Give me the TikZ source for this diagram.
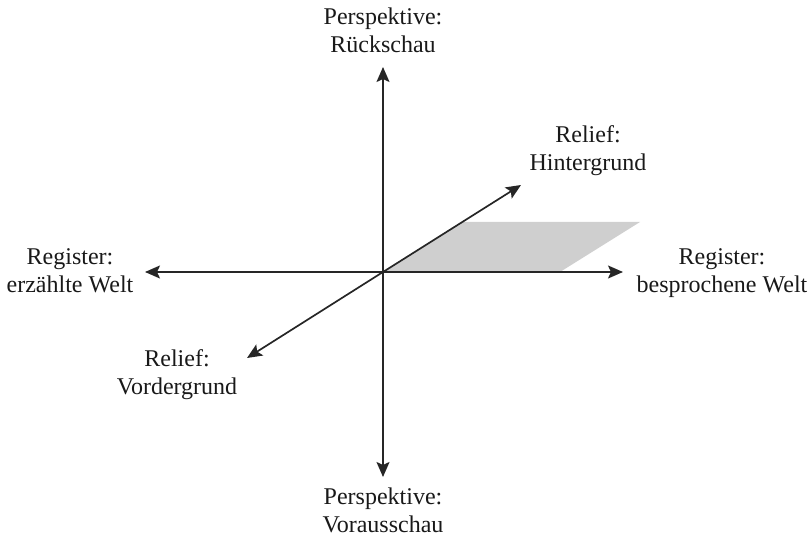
\documentclass[tikz,border=0pt]{standalone}
\usepackage{fontspec}
\setmainfont{Liberation Serif}
\usetikzlibrary{arrows.meta}
\begin{document}
\begin{tikzpicture}[x=1pt,y=-1pt,
  axis/.style={line width=1.7pt, draw=black!85, -{Stealth[length=15pt,width=13pt,inset=3pt]}},
  lbl/.style={align=center, inner sep=0pt, anchor=base, font=\fontsize{24}{28}\selectfont, text=black!90}]
\useasboundingbox (0,0) rectangle (812,537);
\coordinate (O) at (383,272);
\coordinate (T) at (383,67);
\coordinate (B) at (383,477);
\coordinate (L) at (145,272);
\coordinate (R) at (623,272);
\coordinate (UR) at (521,185);
\coordinate (LL) at (247,358);
\coordinate (P1) at (560,272);
\coordinate (P2) at (640,222);
\coordinate (P3) at (462,222);
\fill[black!19] (O) -- (P1) -- (P2) -- (P3) -- cycle;
\draw[axis] (O) -- (T);
\draw[axis] (O) -- (B);
\draw[axis] (O) -- (L);
\draw[axis] (O) -- (R);
\draw[axis] (O) -- (UR);
\draw[axis] (O) -- (LL);
\node[lbl] (top) at (383,53) {Perspektive:\\Rückschau};
\node[lbl] (bot) at (383,532) {Perspektive:\\Vorausschau};
\node[lbl] (lft) at (70,293) {Register:\\erzählte Welt};
\node[lbl] (rgt) at (722,293) {Register:\\besprochene Welt};
\node[lbl] (hin) at (588,171) {Relief:\\Hintergrund};
\node[lbl] (vor) at (177,395) {Relief:\\Vordergrund};
\end{tikzpicture}
\end{document}
